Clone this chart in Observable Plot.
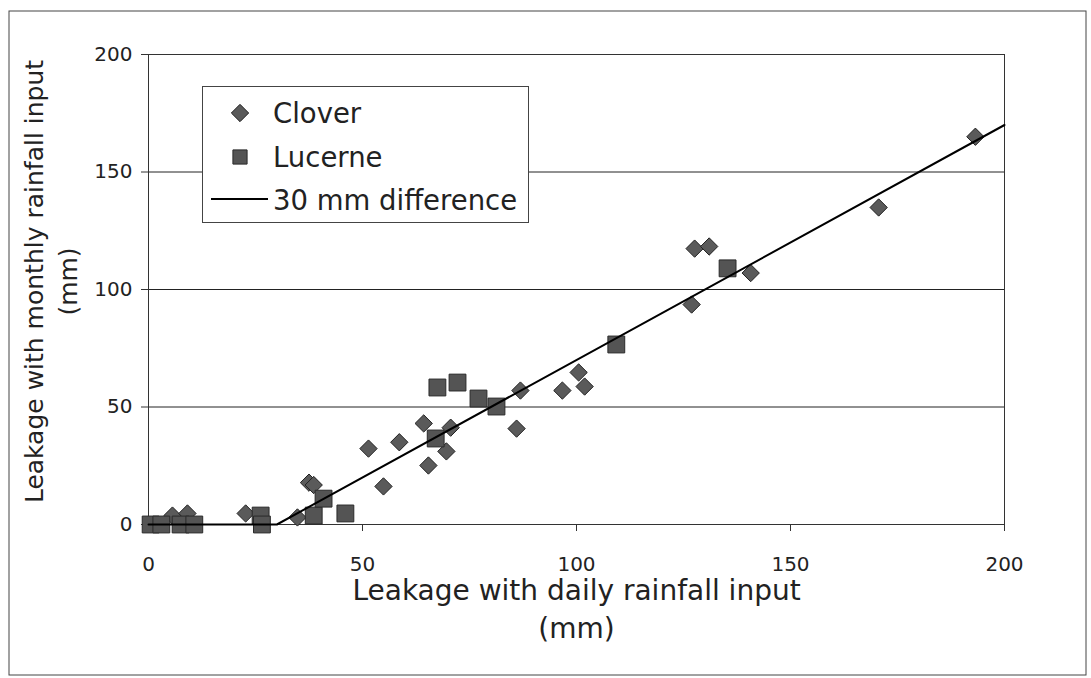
<!DOCTYPE html>
<html><head><meta charset="utf-8">
<script src="https://cdn.jsdelivr.net/npm/d3@7"></script>
<script src="https://cdn.jsdelivr.net/npm/@observablehq/plot@0.6"></script>
<style>
body{margin:0;background:#fff;}
#wrap{position:relative;width:1091px;height:678px;}
#legend{position:absolute;left:202px;top:86px;width:325px;height:135px;border:1px solid #444;background:#fff;}
#legend svg{position:absolute;left:0;top:0;}
</style></head><body><div id="wrap"></div>
<script>
// Clover (diamonds)
const cloverX = [5.6, 9.1, 22.7, 34.8, 37.5, 38.6, 51.4, 54.9, 58.6, 64.3, 65.4, 69.6, 70.6, 86.0, 86.9, 96.7, 100.5, 101.9, 126.9, 127.6, 131.0, 140.7, 170.6, 193.2];
const cloverY = [3.8, 4.7, 4.7, 3.0, 17.8, 16.8, 32.3, 16.2, 35.0, 43.0, 25.1, 31.1, 41.2, 40.8, 57.0, 57.0, 64.7, 58.7, 93.6, 117.4, 118.3, 107.0, 134.9, 165.0];
// Lucerne (squares)
const lucerneX = [0.5, 3.0, 7.5, 10.7, 26.2, 26.5, 38.6, 40.9, 46.0, 67.1, 67.5, 72.2, 77.1, 81.3, 109.3, 135.3];
const lucerneY = [0.0, 0.0, 0.0, 0.0, 3.8, 0.0, 3.8, 11.0, 4.7, 36.6, 58.3, 60.4, 53.6, 50.2, 76.6, 109.0];
// 30 mm difference line
const diffX = [0, 30, 200];
const diffY = [0, 0, 170];
const xTicks = [0, 50, 100, 150, 200];
const yTicks = [0, 50, 100, 150, 200];
const gridY = [50, 100, 150];
const seriesNames = ["Clover", "Lucerne", "30 mm difference"];
const xTitle = ["Leakage with daily rainfall input", "(mm)"];
const yTitle = ["Leakage with monthly rainfall input", "(mm)"];

const clover = cloverX.map((x, i) => ({x, y: cloverY[i]}));
const lucerne = lucerneX.map((x, i) => ({x, y: lucerneY[i]}));
const diff = diffX.map((x, i) => ({x, y: diffY[i]}));

const FONT = "DejaVu Sans";
const TXT = "#222";
const DR = 7.8, SR = 9.5;
const chart = Plot.plot({
  width: 1091, height: 678,
  marginLeft: 148, marginRight: 87, marginTop: 54, marginBottom: 154,
  style: {fontFamily: FONT, color: TXT, background: "#fff"},
  x: {domain: [0, 200]},
  y: {domain: [0, 200]},
  marks: [
    Plot.ruleY(gridY, {stroke: "#222", strokeWidth: 1}),
    Plot.frame({stroke: "#333"}),
    Plot.axisX({ticks: xTicks, tickSize: 7, tickPadding: 25, fontSize: 20, label: null, stroke: "#333"}),
    Plot.axisY({ticks: yTicks, tickSize: 7, tickPadding: 9, fontSize: 20, label: null, stroke: "#333"}),
    Plot.dot(clover, {x: "x", y: "y", symbol: "diamond2", r: DR, fill: "#5a5a5a", stroke: "#222", strokeWidth: 1}),
    Plot.dot(lucerne, {x: "x", y: "y", symbol: "square", r: SR, fill: "#545454", stroke: "#2a2a2a", strokeWidth: 1}),
    Plot.line(diff, {x: "x", y: "y", stroke: "#000", strokeWidth: 2}),
    Plot.text([xTitle[0]], {frameAnchor: "bottom", lineAnchor: "middle", textAnchor: "middle", dy: 67, fontSize: 28, fill: TXT}),
    Plot.text([xTitle[1]], {frameAnchor: "bottom", lineAnchor: "middle", textAnchor: "middle", dy: 105, fontSize: 28, fill: TXT}),
    Plot.text([yTitle[0]], {frameAnchor: "left", lineAnchor: "middle", textAnchor: "middle", dx: -114, dy: -8, rotate: -90, fontSize: 25, fill: TXT}),
    Plot.text([yTitle[1]], {frameAnchor: "left", lineAnchor: "middle", textAnchor: "middle", dx: -80, dy: -8, rotate: -90, fontSize: 25, fill: TXT})
  ]
});
const wrap = document.getElementById("wrap");
wrap.appendChild(chart);
d3.select(chart).append("rect")
  .attr("x", 9).attr("y", 11).attr("width", 1077).attr("height", 664)
  .attr("fill", "none").attr("stroke", "#444").attr("stroke-width", 1);

// Legend
const leg = document.createElement("div");
leg.id = "legend";
wrap.appendChild(leg);
const ls = d3.select(leg).append("svg").attr("width", 325).attr("height", 135)
  .style("font-family", FONT).style("font-size", "27.5px");
ls.append("path").attr("transform", "translate(37,26)")
  .attr("d", d3.symbol(d3.symbolDiamond2, Math.PI * DR * DR)()).attr("fill", "#5a5a5a").attr("stroke", "#222");
ls.append("path").attr("transform", "translate(37,70)")
  .attr("d", d3.symbol(d3.symbolSquare, Math.PI * 64)()).attr("fill", "#545454").attr("stroke", "#2a2a2a");
ls.append("line").attr("x1", 8).attr("x2", 65).attr("y1", 112).attr("y2", 112).attr("stroke", "#000").attr("stroke-width", 2);
const baselines = [36, 80, 123];
seriesNames.forEach((n, i) => ls.append("text").attr("x", 70).attr("y", baselines[i]).attr("fill", TXT).text(n));
</script></body></html>
